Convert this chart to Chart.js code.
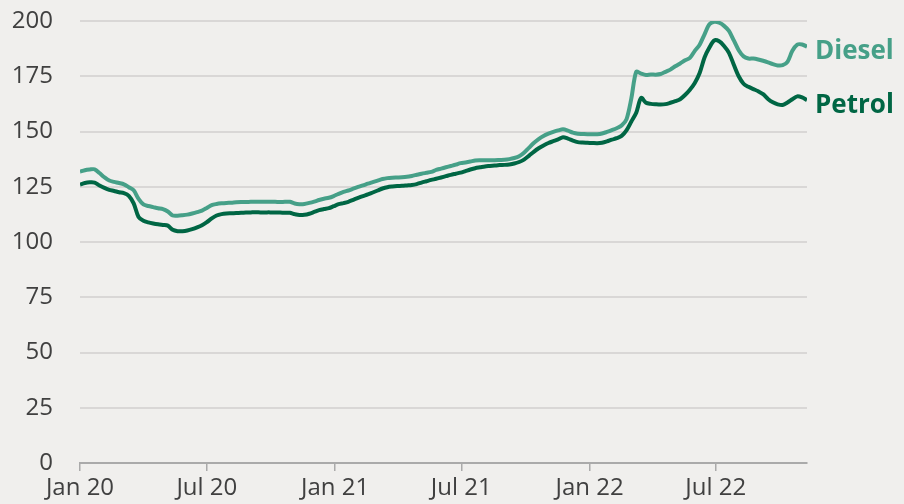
<!DOCTYPE html>
<html><head><meta charset="utf-8">
<script src="https://cdn.jsdelivr.net/npm/chart.js@4/dist/chart.umd.min.js"></script>
<style>html,body{margin:0;padding:0;background:#f0efed;}#wrap{width:904px;height:504px;}</style>
</head><body><div id="wrap"><canvas id="c" width="904" height="504"></canvas></div>
<script>
// Weekly UK pump prices (pence per litre), weeks from 1 Jan 2020
const diesel = [131.8,132.5,132.8,132.9,131.2,129.3,127.8,127.2,126.7,126.1,124.8,123.4,119.5,117.0,116.3,115.8,115.3,114.9,113.8,112.0,
111.9,112.1,112.4,112.9,113.5,114.2,115.4,116.7,117.2,117.5,117.7,117.8,118.0,118.1,118.1,118.2,118.2,118.2,118.2,118.2,
118.2,118.1,118.2,118.2,117.4,117.1,117.2,117.7,118.3,119.0,119.6,120.0,120.8,121.8,122.7,123.3,124.1,124.9,125.6,126.4,
127.1,127.8,128.5,128.9,129.1,129.2,129.3,129.5,129.9,130.4,130.9,131.3,131.7,132.6,133.2,133.8,134.4,135.0,135.7,136.0,
136.4,136.9,137.0,137.0,137.0,137.0,137.1,137.2,137.5,138.0,138.8,140.4,142.6,144.8,146.6,148.0,149.0,149.8,150.5,151.0,
150.4,149.5,149.0,148.9,148.8,148.8,148.8,149.1,149.8,150.6,151.5,152.7,155.5,165.0,177.0,176.2,175.6,175.8,175.7,176.0,
177.0,178.0,179.5,180.8,182.2,183.3,186.5,189.3,194.0,198.5,199.6,199.2,197.8,195.5,191.2,186.8,184.0,183.0,183.0,182.6,
182.0,181.3,180.5,179.9,180.0,181.5,186.5,189.3,189.4,188.4];
const petrol = [126.0,126.7,127.0,126.9,125.6,124.5,123.6,123.1,122.5,122.1,120.9,117.5,111.3,109.6,108.9,108.4,108.0,107.7,107.4,105.5,
104.9,104.9,105.2,105.8,106.6,107.6,109.0,110.7,112.0,112.6,112.9,113.0,113.1,113.2,113.3,113.4,113.5,113.4,113.4,113.4,
113.3,113.3,113.2,113.2,112.6,112.2,112.3,112.8,113.6,114.4,114.9,115.3,116.2,117.1,117.6,118.2,119.1,120.0,120.8,121.5,
122.4,123.3,124.2,124.8,125.1,125.3,125.4,125.6,125.8,126.2,126.9,127.5,128.1,128.6,129.2,129.8,130.4,130.9,131.4,132.1,
132.8,133.4,133.8,134.2,134.4,134.6,134.8,134.9,135.1,135.5,136.2,137.3,139.0,140.8,142.4,143.7,144.8,145.6,146.4,147.4,
146.8,145.9,145.2,145.0,144.9,144.8,144.7,144.9,145.5,146.3,147.0,148.0,150.5,154.5,158.5,165.2,163.0,162.5,162.3,162.2,
162.4,163.0,163.7,164.6,166.5,168.9,172.0,176.5,183.5,188.0,191.2,190.8,188.7,185.6,180.2,175.0,171.6,170.2,169.2,168.2,
166.9,164.7,163.2,162.3,162.0,163.1,164.6,165.9,165.4,164.2];
const seriesNames = ['Diesel','Petrol'];
const tickDays = [0,182,366,547,731,912];
const tickLabels = ['Jan 20','Jul 20','Jan 21','Jul 21','Jan 22','Jul 22'];
const yTicks = [0,25,50,75,100,125,150,175,200];
const daysPerWeek = 7;

const toPts = arr => arr.map((v,i)=>({x:i*daysPerWeek,y:v}));
const colD = '#46a088', colP = '#006644';
const FONT = '"Open Sans", "Noto Sans", sans-serif';

const endLabels = {
  id:'endLabels',
  afterDatasetsDraw(chart){
    const ctx = chart.ctx;
    ctx.save();
    ctx.font = 'bold 26px ' + FONT;
    ctx.textBaseline = 'middle';
    ctx.textAlign = 'left';
    chart.data.datasets.forEach((ds,i)=>{
      const meta = chart.getDatasetMeta(i);
      const p = meta.data[meta.data.length-1];
      ctx.fillStyle = ds.borderColor;
      ctx.fillText(ds.label, p.x + 8, p.y + 5);
    });
    ctx.restore();
  }
};

new Chart(document.getElementById('c'), {
  type:'line',
  data:{datasets:[
    {label:seriesNames[0], data:toPts(diesel), borderColor:colD, borderWidth:4, pointRadius:0, tension:0.3, fill:false},
    {label:seriesNames[1], data:toPts(petrol), borderColor:colP, borderWidth:4, pointRadius:0, tension:0.3, fill:false}
  ]},
  options:{
    responsive:false, animation:false, devicePixelRatio:1,
    layout:{padding:{top:21,right:97,bottom:0,left:0}},
    plugins:{legend:{display:false}, tooltip:{enabled:false}},
    scales:{
      x:{type:'linear', min:0, max:(diesel.length-1)*daysPerWeek,
        afterBuildTicks(s){ s.ticks = tickDays.map(v=>({value:v})); },
        afterFit(s){ s.height = 41; s.paddingLeft = 0; s.paddingRight = 0; },
        ticks:{autoSkip:false, maxRotation:0, padding:3, color:'#404040', font:{family:FONT,size:24},
          callback(v){ const k = tickDays.indexOf(v); return k>=0 ? tickLabels[k] : ''; }},
        grid:{display:true, drawOnChartArea:false, drawTicks:true, tickLength:8, color:'#aaaaaa', lineWidth:1.5},
        border:{display:true, color:'#aaaaaa', width:2}
      },
      y:{min:0, max:200,
        afterBuildTicks(s){ s.ticks = yTicks.map(v=>({value:v})); },
        afterFit(s){ s.width = 80; s.paddingTop = 0; s.paddingBottom = 0; },
        ticks:{padding:27, color:'#404040', font:{family:FONT,size:24}},
        grid:{color:'#d9d7d6', lineWidth:2, drawTicks:false},
        border:{display:false}
      }
    }
  },
  plugins:[endLabels]
});
</script></body></html>
